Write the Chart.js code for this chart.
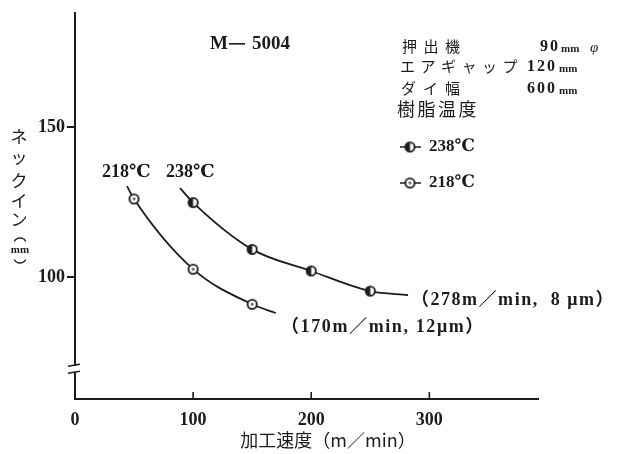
<!DOCTYPE html>
<html lang="ja">
<head>
<meta charset="utf-8">
<title>M-5004 ネックイン</title>
<script src="https://cdn.jsdelivr.net/npm/chart.js"></script>
<style>
  html, body { margin: 0; padding: 0; background: #fff; }
  #wrap { width: 617px; height: 454px; }
</style>
</head>
<body>
<div id="wrap"><canvas id="neckinChart" width="617" height="454"></canvas></div>
<script>
// 目盛り
const speedTicks = [0, 100, 200, 300];
const neckinTicks = [100, 150];

// 測定点 (加工速度 m/min, ネックイン mm)
const speed218 = [50, 100, 150];
const neckin218 = [126, 102.6, 90.9];
const speed238 = [100, 150, 200, 250];
const neckin238 = [124.8, 109.2, 102, 95.3];

// 曲線 (端点込み)
const curveSpeed218 = [44, 50, 100, 150, 170];
const curveNeckin218 = [130.3, 126, 102.6, 90.9, 88];
const curveSpeed238 = [89, 100, 150, 200, 250, 282];
const curveNeckin238 = [129.6, 124.8, 109.2, 102, 95.3, 94];

const ink = '#1c1c1c';
const serif = "'Liberation Serif', 'DejaVu Serif', serif";
const cjk = "'Noto Sans CJK JP', sans-serif";

function toPoints(xs, ys) {
    return xs.map((x, i) => ({ x: x, y: ys[i] }));
}

// マーカー画像
function makeMarker(half) {
    const c = document.createElement('canvas');
    c.width = 13;
    c.height = 13;
    const g = c.getContext('2d');
    g.beginPath();
    g.arc(6.5, 6.5, 4.6, 0, Math.PI * 2);
    g.fillStyle = '#fff';
    g.fill();
    if (half) {
        g.beginPath();
        g.moveTo(6.5, 6.5);
        g.arc(6.5, 6.5, 4.6, Math.PI * 0.5, Math.PI * 1.5);
        g.closePath();
        g.fillStyle = ink;
        g.fill();
    } else {
        g.beginPath();
        g.arc(6.5, 6.5, 1.4, 0, Math.PI * 2);
        g.fillStyle = '#555';
        g.fill();
    }
    g.beginPath();
    g.arc(6.5, 6.5, 4.6, 0, Math.PI * 2);
    g.lineWidth = 1.8;
    g.strokeStyle = ink;
    g.stroke();
    return c;
}
const marker238 = makeMarker(true);
const marker218 = makeMarker(false);

// 文字を1字ずつ並べる
function drawChars(ctx, str, x, y, font, advance) {
    ctx.font = font;
    Array.from(str).forEach((ch, i) => ctx.fillText(ch, x + i * advance, y));
}

// 幅を合わせて描く
function fitText(ctx, str, x, y, font, width) {
    ctx.font = font;
    const n = Array.from(str).length;
    const w = ctx.measureText(str).width;
    if ('letterSpacing' in ctx) {
        ctx.letterSpacing = ((width - w) / n).toFixed(2) + 'px';
        ctx.fillText(str, x, y);
        ctx.letterSpacing = '0px';
    } else {
        ctx.save();
        ctx.translate(x, y);
        ctx.scale(width / w, 1);
        ctx.fillText(str, 0, 0);
        ctx.restore();
    }
}

const decorPlugin = {
    id: 'decor',
    afterDraw(chart) {
        const ctx = chart.ctx;
        const xs = chart.scales.x;
        const ys = chart.scales.y;
        const area = chart.chartArea;
        ctx.save();
        ctx.strokeStyle = ink;
        ctx.fillStyle = ink;

        // x軸の内向き目盛り
        ctx.lineWidth = 1.6;
        speedTicks.filter(v => v > 0).forEach(v => {
            const px = xs.getPixelForValue(v);
            ctx.beginPath();
            ctx.moveTo(px, area.bottom);
            ctx.lineTo(px, area.bottom - 7);
            ctx.stroke();
        });

        // 縦軸の省略記号
        const by = ys.getPixelForValue(69.4);
        ctx.fillStyle = '#fff';
        ctx.fillRect(area.left - 3, by - 3, 6, 6);
        ctx.fillStyle = ink;
        ctx.lineWidth = 1.6;
        [-3.5, 3.5].forEach(d => {
            ctx.beginPath();
            ctx.moveTo(area.left - 7, by + d + 1);
            ctx.lineTo(area.left + 5, by + d - 1);
            ctx.stroke();
        });

        ctx.textBaseline = 'middle';
        ctx.textAlign = 'left';

        // タイトル
        ctx.font = 'bold 19px ' + serif;
        ctx.fillText('M', 210, 44);
        ctx.fillRect(229, 43, 16, 1.6);
        ctx.fillText('5004', 252, 44);

        // 条件
        drawChars(ctx, '押出機', 402, 46, '15px ' + cjk, 21.5);
        drawChars(ctx, 'エアギャップ', 400, 66, '15px ' + cjk, 20.5);
        drawChars(ctx, 'ダイ幅', 401, 88, '15px ' + cjk, 22);
        drawChars(ctx, '樹脂温度', 397, 109, '18px ' + cjk, 20.5);

        const unitFont = 'bold 11px ' + serif;
        drawChars(ctx, '90', 540, 47, 'bold 16px ' + serif, 10);
        ctx.font = unitFont;
        ctx.fillText('mm', 561, 49);
        ctx.font = 'italic 15px ' + serif;
        ctx.fillText('φ', 590, 48);
        drawChars(ctx, '120', 527, 67, 'bold 16px ' + serif, 10);
        ctx.font = unitFont;
        ctx.fillText('mm', 559, 69);
        drawChars(ctx, '600', 527, 89, 'bold 16px ' + serif, 10);
        ctx.font = unitFont;
        ctx.fillText('mm', 559, 91);

        // 凡例
        [[147, marker238, '238℃'], [183, marker218, '218℃']].forEach(([y, img, label]) => {
            ctx.lineWidth = 1.5;
            ctx.beginPath();
            ctx.moveTo(400, y);
            ctx.lineTo(421, y);
            ctx.stroke();
            ctx.drawImage(img, 410 - 6.5, y - 6.5);
            ctx.font = 'bold 17px ' + serif;
            ctx.fillText(label, 429, y);
        });

        // 曲線ラベル
        ctx.font = 'bold 18px ' + serif;
        ctx.fillText('218℃', 102, 172);
        ctx.fillText('238℃', 166, 172);

        // 最大速度の注記
        fitText(ctx, '（278m／min,  8 μm）', 411, 300, 'bold 18px ' + serif + ', ' + cjk, 204);
        fitText(ctx, '（170m／min, 12μm）', 281, 327, 'bold 18px ' + serif + ', ' + cjk, 204);

        // 縦軸タイトル (縦書き)
        ctx.textAlign = 'center';
        ctx.font = '17px ' + cjk;
        [['ネ', 137], ['ッ', 158], ['ク', 181], ['イ', 201], ['ン', 220]].forEach(([ch, y]) => ctx.fillText(ch, 19, y));
        ctx.lineWidth = 1.3;
        ctx.beginPath();
        ctx.ellipse(20, 243, 6, 5, 0, Math.PI * 1.1, Math.PI * 1.9);
        ctx.stroke();
        ctx.beginPath();
        ctx.ellipse(20, 258, 6, 5, 0, Math.PI * 0.1, Math.PI * 0.9);
        ctx.stroke();
        ctx.font = 'bold 11px ' + serif;
        ctx.fillText('mm', 20, 250);

        // 横軸タイトル
        ctx.font = '18px ' + cjk;
        ctx.fillText('加工速度（m／min）', 328, 440);

        ctx.restore();
    }
};

const ctx = document.getElementById('neckinChart').getContext('2d');

new Chart(ctx, {
    type: 'line',
    data: {
        datasets: [
            {
                label: '238℃',
                data: toPoints(speed238, neckin238),
                showLine: false,
                pointStyle: marker238,
                pointRadius: 6,
                order: 0
            },
            {
                label: '218℃',
                data: toPoints(speed218, neckin218),
                showLine: false,
                pointStyle: marker218,
                pointRadius: 6,
                order: 0
            },
            {
                label: '238℃ curve',
                data: toPoints(curveSpeed238, curveNeckin238),
                borderColor: ink,
                borderWidth: 1.8,
                pointRadius: 0,
                cubicInterpolationMode: 'monotone',
                order: 1
            },
            {
                label: '218℃ curve',
                data: toPoints(curveSpeed218, curveNeckin218),
                borderColor: ink,
                borderWidth: 1.8,
                pointRadius: 0,
                cubicInterpolationMode: 'monotone',
                order: 1
            }
        ]
    },
    options: {
        responsive: false,
        animation: false,
        events: [],
        layout: { padding: { top: 13, right: 79, left: 0, bottom: 0 } },
        plugins: {
            legend: { display: false },
            tooltip: { enabled: false }
        },
        scales: {
            x: {
                type: 'linear',
                min: 0,
                max: 392,
                afterBuildTicks: scale => { scale.ticks = speedTicks.map(v => ({ value: v })); },
                afterFit: scale => { scale.height = 55; },
                grid: { display: false },
                border: { display: true, color: ink, width: 2 },
                ticks: {
                    color: ink,
                    padding: 3,
                    maxRotation: 0,
                    font: { family: serif, size: 18, weight: 'bold' }
                }
            },
            y: {
                type: 'linear',
                min: 59.33,
                max: 188,
                afterBuildTicks: scale => { scale.ticks = neckinTicks.map(v => ({ value: v })); },
                afterFit: scale => { scale.width = 75; },
                grid: { drawOnChartArea: false, color: ink, lineWidth: 2, tickLength: 8 },
                border: { display: true, color: ink, width: 2 },
                ticks: {
                    color: ink,
                    padding: 2,
                    font: { family: serif, size: 18, weight: 'bold' }
                }
            }
        }
    },
    plugins: [decorPlugin]
});
</script>
</body>
</html>
